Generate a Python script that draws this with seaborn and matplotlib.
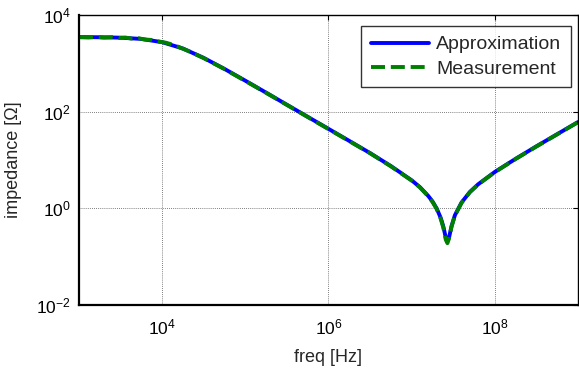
import numpy as np
import pandas as pd
import matplotlib
matplotlib.use("Agg")
import matplotlib.pyplot as plt
import seaborn as sns
from matplotlib.ticker import FixedLocator, NullLocator

# ---- data ----
approx_freq = [1e3, 1.78e3, 3.16e3, 5.62e3, 1e4, 1.78e4, 3.16e4, 5.62e4, 1e5, 1.78e5,
               3.16e5, 5.62e5, 1e6, 1.78e6, 3.16e6, 5.62e6, 1e7, 1.26e7, 1.58e7, 1.78e7,
               2.0e7, 2.24e7, 2.40e7, 2.57e7, 2.69e7, 2.82e7, 3.02e7, 3.31e7, 3.98e7,
               5.01e7, 6.31e7, 1e8, 1.78e8, 3.16e8, 5.62e8, 1e9]
approx_z = [3489, 3466, 3395, 3196, 2741, 2022, 1294, 765, 437, 247,
            139, 78.3, 44.1, 24.8, 13.9, 7.5, 3.8, 2.73, 1.81, 1.39,
            0.99, 0.63, 0.424, 0.248, 0.21, 0.254, 0.432, 0.72, 1.32,
            2.18, 3.15, 5.66, 10.6, 19.2, 34.2, 61.0]

meas_freq = [1e3, 1.3e3, 1.6e3, 2.0e3, 2.5e3, 3.0e3, 3.6e3, 4.3e3, 5.2e3, 6.2e3,
             7.5e3, 9e3, 1.1e4, 1.4e4, 1.78e4, 2.2e4, 3.16e4, 5.62e4, 1e5, 1.78e5,
             3.16e5, 5.62e5, 1e6, 1.78e6, 3.16e6, 5.62e6, 1e7, 1.26e7, 1.58e7, 1.78e7,
             2.0e7, 2.24e7, 2.40e7, 2.57e7, 2.69e7, 2.82e7, 3.02e7, 3.31e7, 3.98e7,
             5.01e7, 6.31e7, 1e8, 1.78e8, 3.16e8, 5.62e8, 1e9]
meas_z = [3480, 3430, 3520, 3400, 3490, 3330, 3420, 3250, 3310, 3100,
          3050, 2830, 2680, 2380, 2000, 1720, 1280, 760, 432, 245,
          138, 77.5, 43.6, 24.5, 13.8, 7.4, 3.75, 2.70, 1.78, 1.36,
          0.97, 0.60, 0.40, 0.225, 0.19, 0.24, 0.42, 0.71, 1.30,
          2.16, 3.12, 5.60, 10.5, 19.0, 34.0, 60.5]

x_ticks = [1e4, 1e6, 1e8]
x_tick_labels = [r"$10^{4}$", r"$10^{6}$", r"$10^{8}$"]
y_ticks = [1e-2, 1e0, 1e2, 1e4]
y_tick_labels = [r"$10^{-2}$", r"$10^{0}$", r"$10^{2}$", r"$10^{4}$"]

# ---- style ----
sns.set_style("white")
plt.rcParams["font.family"] = ["Liberation Sans", "DejaVu Sans"]
plt.rcParams["mathtext.fontset"] = "custom"
plt.rcParams["mathtext.rm"] = "Liberation Sans"
plt.rcParams["mathtext.default"] = "regular"

TICK_FS = 12.5
LABEL_FS = 13
LEG_FS = 14
LW = 2.8
DASH = (0, (3.6, 1.5))

fig = plt.figure(figsize=(5.79, 3.75), dpi=100)
ax = fig.add_axes([79 / 579, 70 / 375, 499 / 579, 290 / 375])

df_a = pd.DataFrame({"freq": approx_freq, "z": approx_z})
df_m = pd.DataFrame({"freq": meas_freq, "z": meas_z})

sns.lineplot(data=df_a, x="freq", y="z", ax=ax, color=(0, 0, 1), lw=LW,
             label="Approximation", sort=False)
sns.lineplot(data=df_m, x="freq", y="z", ax=ax, color=(0, 0.5, 0), lw=LW,
             label="Measurement", sort=False)
ax.lines[1].set_linestyle(DASH)

ax.set_xscale("log")
ax.set_yscale("log")
ax.set_xlim(1e3, 1e9)
ax.set_ylim(1e-2, 1e4)

ax.xaxis.set_major_locator(FixedLocator(x_ticks))
ax.xaxis.set_minor_locator(NullLocator())
ax.yaxis.set_major_locator(FixedLocator(y_ticks))
ax.yaxis.set_minor_locator(NullLocator())
ax.set_xticklabels(x_tick_labels, fontsize=TICK_FS)
ax.set_yticklabels(y_tick_labels, fontsize=TICK_FS)

ax.tick_params(direction="in", length=3.5, width=0.8, top=True, right=True,
               colors="black", labelcolor="black")
ax.tick_params(axis="x", pad=9)
ax.tick_params(axis="y", pad=6)
ax.grid(True, which="major", linestyle=(0, (1, 1.5)), color="#555555", lw=0.6)

for s in ax.spines.values():
    s.set_color("black")
    s.set_linewidth(1.0)
ax.spines["bottom"].set_linewidth(1.6)
ax.spines["left"].set_linewidth(1.6)

ax.set_xlabel("freq [Hz]", fontsize=LABEL_FS, labelpad=8)
ax.set_ylabel("impedance [Ω]", fontsize=LABEL_FS, labelpad=10)

leg = ax.legend(loc="upper right", bbox_to_anchor=(0.986, 0.962), borderaxespad=0,
                fontsize=LEG_FS, frameon=True, fancybox=False, handlelength=3.0,
                handletextpad=0.35, borderpad=0.5, labelspacing=0.35)
leg.get_frame().set_edgecolor("black")
leg.get_frame().set_linewidth(1.0)
for h in leg.get_lines():
    h.set_linewidth(LW)
leg.get_lines()[1].set_linestyle(DASH)

fig.savefig("out.png", dpi=100)
